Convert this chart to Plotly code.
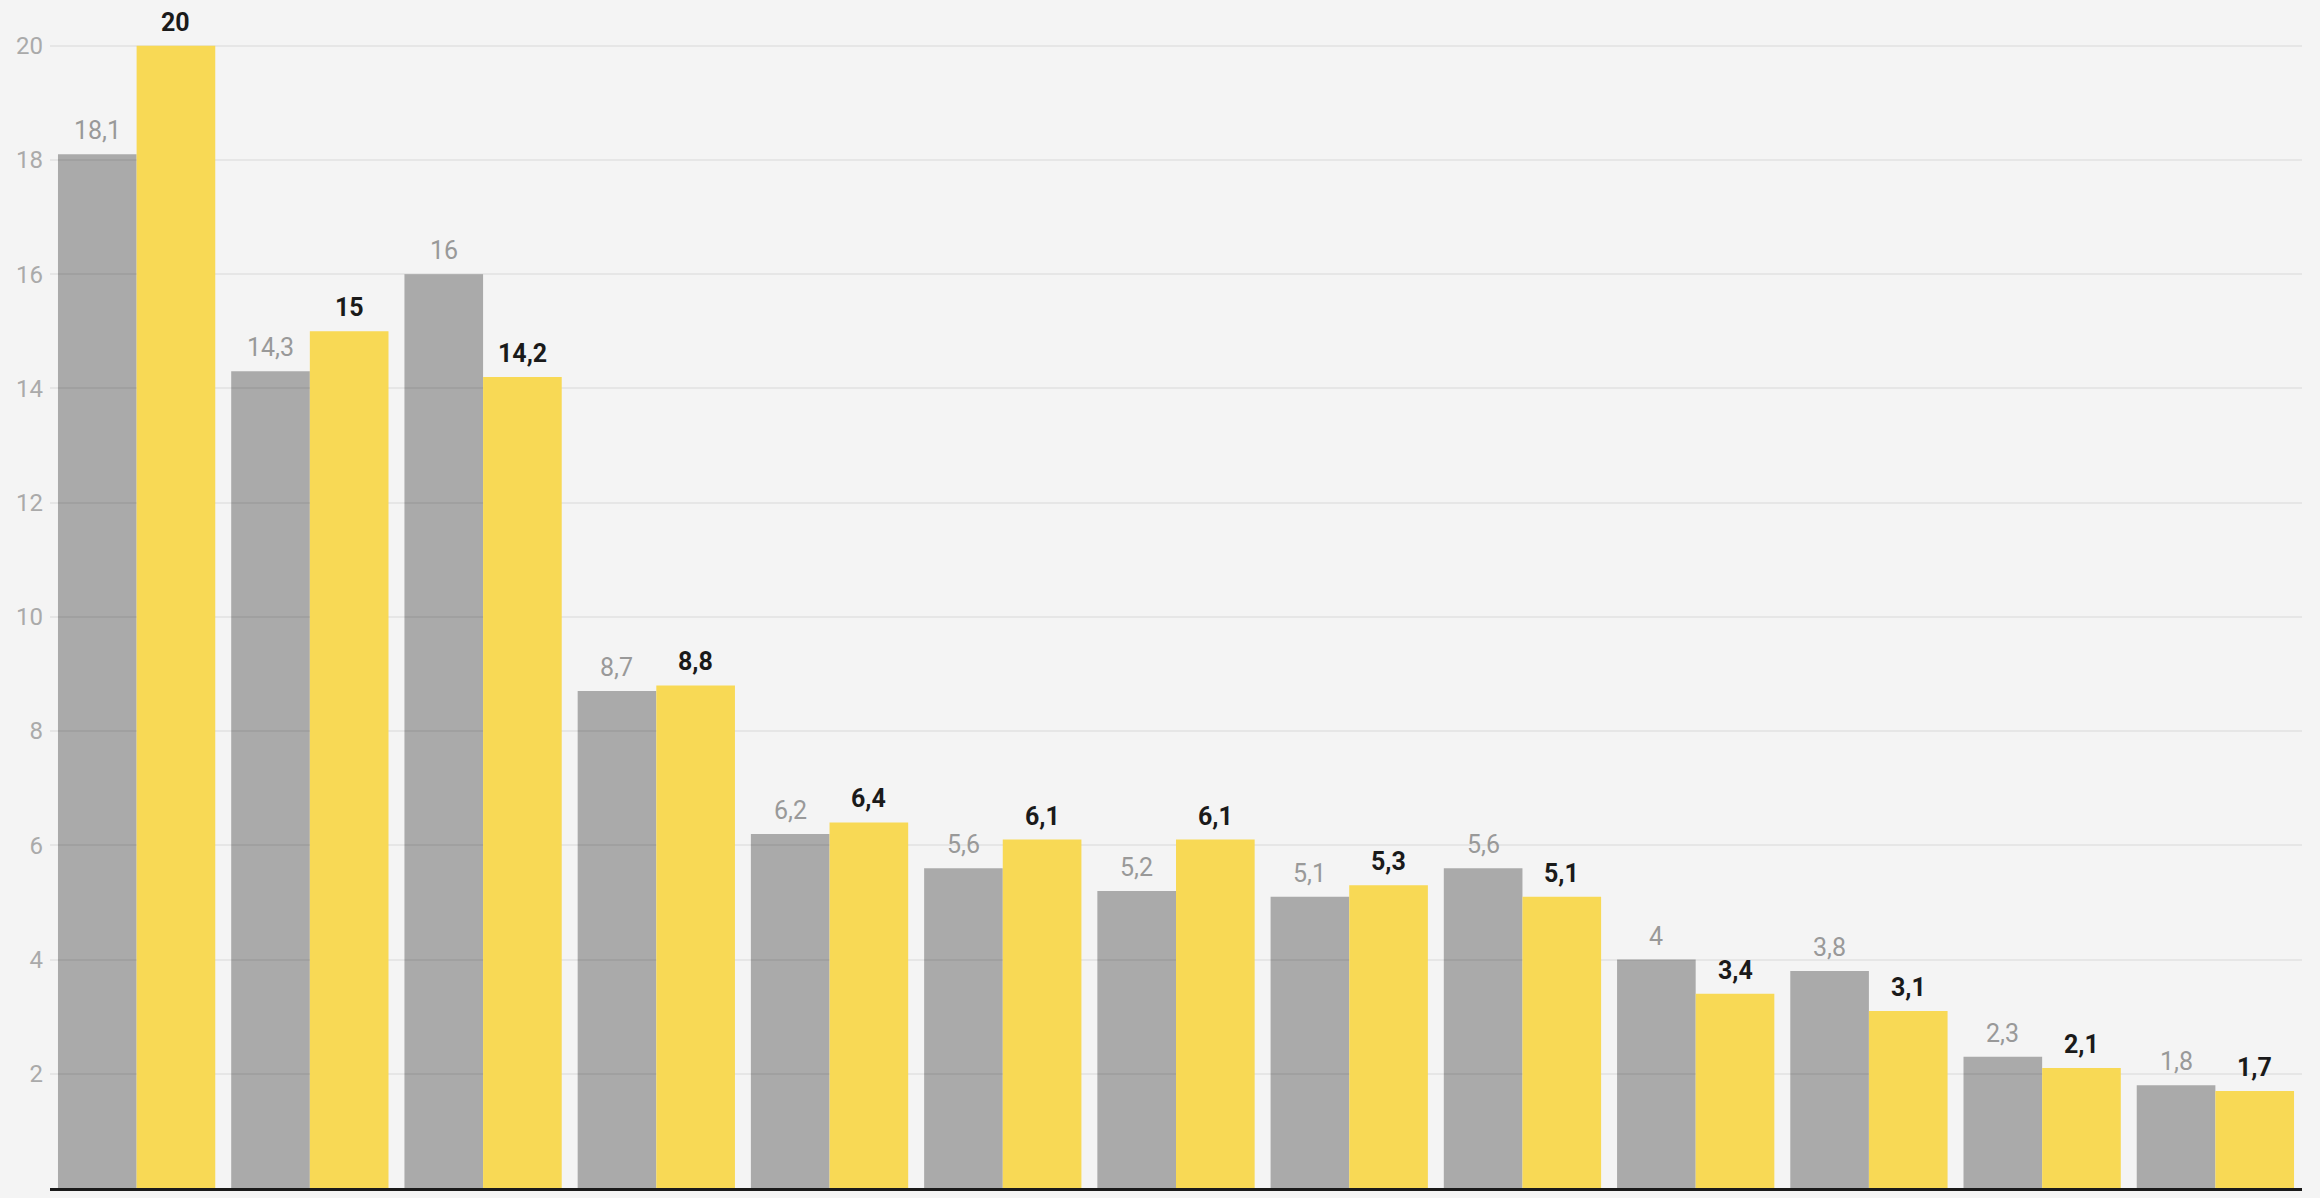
import plotly.graph_objects as go

categories = ["C1", "C2", "C3", "C4", "C5", "C6", "C7", "C8", "C9", "C10", "C11", "C12", "C13"]
grey_values = [18.1, 14.3, 16, 8.7, 6.2, 5.6, 5.2, 5.1, 5.6, 4, 3.8, 2.3, 1.8]
yellow_values = [20, 15, 14.2, 8.8, 6.4, 6.1, 6.1, 5.3, 5.1, 3.4, 3.1, 2.1, 1.7]
tick_values = [2, 4, 6, 8, 10, 12, 14, 16, 18, 20]

W, H = 2320, 1198
ML, MR, MT, MB = 50, 18, 0, 10
BARGAP = 0.092


def fmt(v):
    return ("%g" % v).replace(".", ",")


fig = go.Figure()
fig.add_trace(go.Bar(
    x=categories, y=grey_values,
    marker=dict(color="rgba(0,0,0,0.3)", line=dict(width=0)),
))
fig.add_trace(go.Bar(
    x=categories, y=yellow_values,
    marker=dict(color="#f8d955", line=dict(width=0)),
))

# value labels placed above each bar
plot_w = W - ML - MR
half_off = plot_w / len(categories) * (1 - BARGAP) / 4
annotations = []
for c, gv, yv in zip(categories, grey_values, yellow_values):
    annotations.append(dict(
        x=c, y=gv, xref="x", yref="y", text=fmt(gv), showarrow=False,
        xshift=-half_off, yshift=7, yanchor="bottom",
        font=dict(family="Roboto", size=25, color="#999999"),
    ))
    annotations.append(dict(
        x=c, y=yv, xref="x", yref="y", text="<b>" + fmt(yv) + "</b>", showarrow=False,
        xshift=half_off, yshift=7, yanchor="bottom",
        font=dict(family="Roboto", size=25, color="#1a1a1a"),
    ))

fig.update_layout(
    width=W, height=H,
    margin=dict(l=ML, r=MR, t=MT, b=MB),
    paper_bgcolor="#f4f4f4", plot_bgcolor="#f4f4f4",
    barmode="group", bargap=BARGAP, bargroupgap=0,
    showlegend=False,
    font=dict(family="Roboto"),
    annotations=annotations,
)
fig.update_xaxes(
    type="category", range=[-0.5, len(categories) - 0.5],
    showticklabels=False, showgrid=False, ticks="",
    showline=True, linecolor="#1a1a1a", linewidth=3,
)
fig.update_yaxes(
    range=[0, 20.8], tickvals=tick_values,
    tickfont=dict(family="Roboto", size=24, color="#aaaaaa"),
    showgrid=True, gridcolor="#e6e6e6", gridwidth=2,
    zeroline=False, showline=False, ticks="",
    ticklabelstandoff=6,
)

fig.write_html("out.html")
